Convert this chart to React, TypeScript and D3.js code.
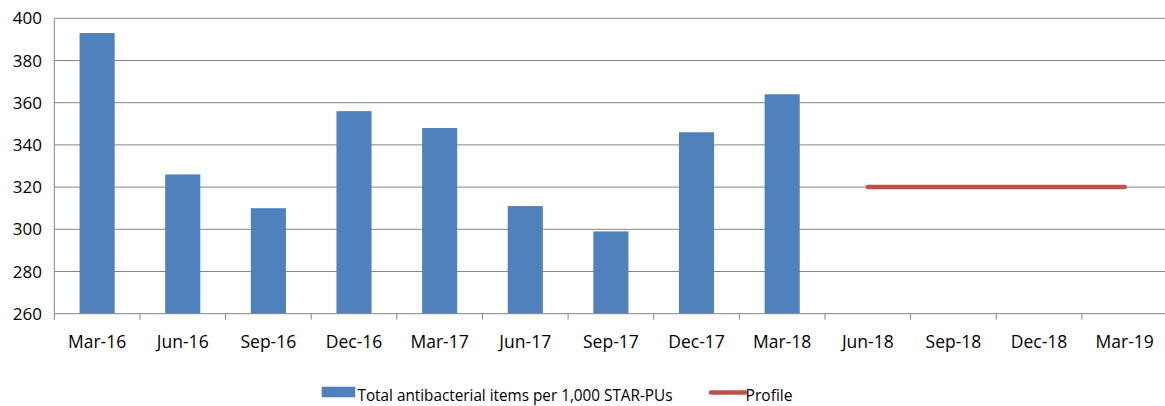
import React from "react";
import * as d3 from "d3";

const categories = ["Mar-16","Jun-16","Sep-16","Dec-16","Mar-17","Jun-17","Sep-17","Dec-17","Mar-18","Jun-18","Sep-18","Dec-18","Mar-19"];
const barValues: (number | null)[] = [393, 326, 310, 356, 348, 311, 299, 346, 364, null, null, null, null];
const profileValues: (number | null)[] = [null, null, null, null, null, null, null, null, null, 320, 320, 320, 320];
const yTicks = [260, 280, 300, 320, 340, 360, 380, 400];
const barLabel = "Total antibacterial items per 1,000 STAR-PUs";
const profileLabel = "Profile";

const W = 1165, H = 406;
const left = 54.3, right = 1167.5, top = 18.3, bottom = 313.7;
const FONT = "'Open Sans', sans-serif";

export default function App() {
  const x = d3.scaleBand<string>().domain(categories).range([left, right]).paddingInner(0).paddingOuter(0);
  const y = d3.scaleLinear().domain([260, 400]).range([bottom, top]);
  const bw = x.bandwidth() * 0.41;
  const line = d3.line<[string, number | null]>()
    .defined(d => d[1] != null)
    .x(d => (x(d[0]) as number) + x.bandwidth() / 2)
    .y(d => y(d[1] as number));
  const lineData = categories.map((c, i) => [c, profileValues[i]] as [string, number | null]);
  const boundaries = categories.map(c => x(c) as number).concat([right]);
  return (
    <svg width={W} height={H} style={{ position: "absolute", left: 0, top: 0 }} fontFamily={FONT}>
      <rect width={W} height={H} fill="#fff" />
      {yTicks.map(t => (
        <g key={t}>
          {t !== 260 && <line x1={left} x2={right} y1={y(t)} y2={y(t)} stroke="#868686" strokeWidth={1} />}
          <text x={42} y={y(t)} dy="0.36em" textAnchor="end" fontSize={17} fill="#000">{t}</text>
        </g>
      ))}
      {categories.map((c, i) => barValues[i] != null && (
        <rect key={c} x={(x(c) as number) + (x.bandwidth() - bw) / 2} y={y(barValues[i] as number)}
          width={bw} height={y(260) - y(barValues[i] as number)} fill="#4f81bd" />
      ))}
      <line x1={left} x2={left} y1={top} y2={bottom} stroke="#868686" strokeWidth={1} />
      <line x1={left} x2={right} y1={bottom} y2={bottom} stroke="#868686" strokeWidth={1} />
      {boundaries.map((b, i) => (
        <line key={i} x1={b} x2={b} y1={bottom} y2={bottom + 6} stroke="#868686" strokeWidth={1} />
      ))}
      {categories.map(c => (
        <text key={c} x={(x(c) as number) + x.bandwidth() / 2} y={348} textAnchor="middle" fontSize={17.5} fill="#000">{c}</text>
      ))}
      <path d={line(lineData) || ""} fill="none" stroke="#c0504d" strokeWidth={4.5} strokeLinecap="round" />
      <rect x={321.7} y={386.7} width={33.5} height={10.6} fill="#4f81bd" />
      <text x={357.5} y={401} fontSize={17} fill="#000" textLength={315} lengthAdjust="spacingAndGlyphs">{barLabel}</text>
      <line x1={711} x2={745} y1={392.5} y2={392.5} stroke="#c0504d" strokeWidth={4.5} strokeLinecap="round" />
      <text x={745.5} y={401} fontSize={17} fill="#000" textLength={47} lengthAdjust="spacingAndGlyphs">{profileLabel}</text>
    </svg>
  );
}
